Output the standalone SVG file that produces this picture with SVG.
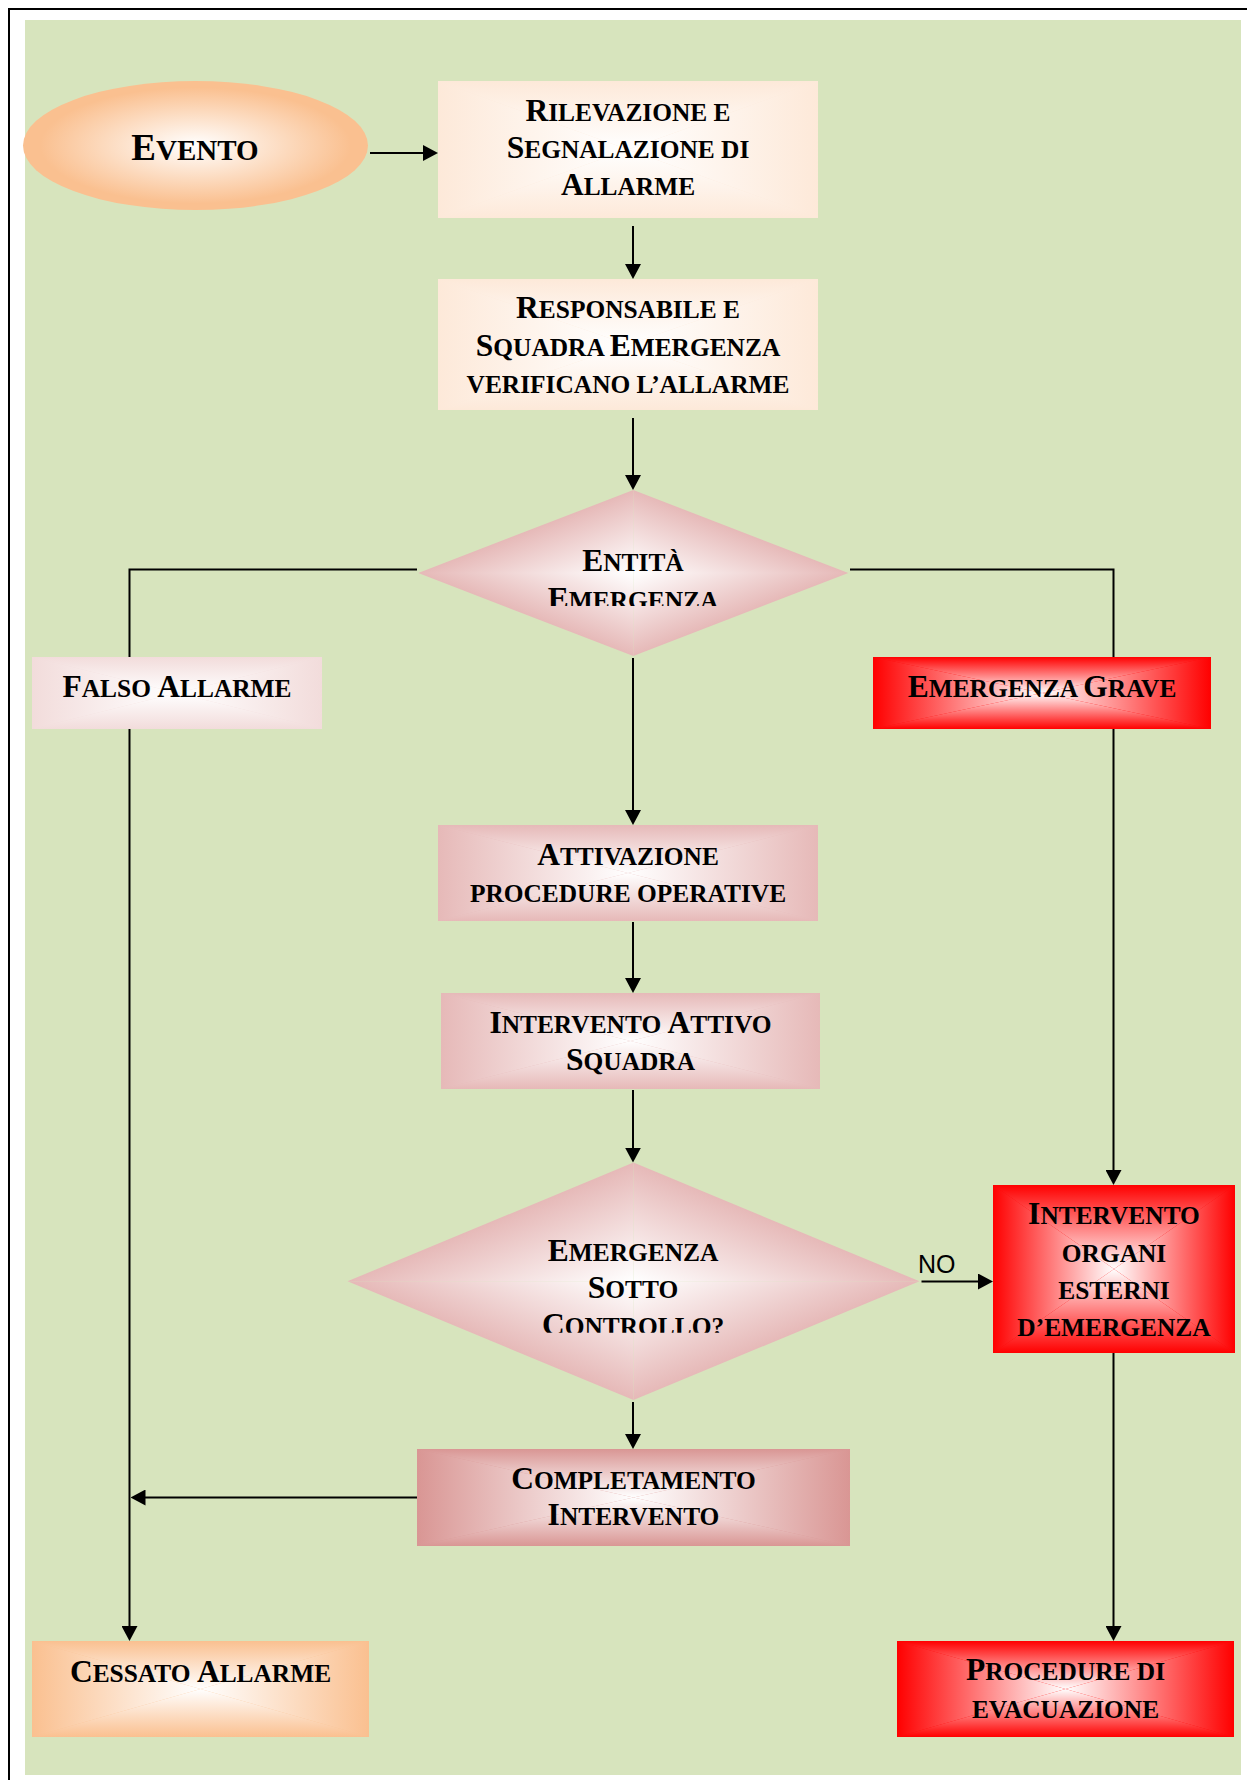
<svg xmlns="http://www.w3.org/2000/svg" xmlns:xlink="http://www.w3.org/1999/xlink" width="1247" height="1780" viewBox="0 0 1247 1780">
<style>
.t{font-family:"Liberation Serif","Times New Roman",serif;font-weight:bold;font-size:25.4px;fill:#000;text-anchor:middle}
.b{font-size:31.5px}
.ln{stroke:#000;stroke-width:2;fill:none}
.ar{marker-end:url(#ah)}
.lbl{font-family:"Liberation Sans",Arial,sans-serif;font-size:25px;fill:#000}
</style>
<defs>
<marker id="ah" viewBox="0 0 15 16" refX="5" refY="8" markerWidth="15" markerHeight="16" orient="auto" markerUnits="userSpaceOnUse"><path d="M0,0 L15,8 L0,16 z" fill="#000"/></marker>
<radialGradient id="ell" cx="0.5" cy="0.5" r="0.5"><stop offset="0" stop-color="#fff"/><stop offset="0.9" stop-color="#FAC090"/></radialGradient>

<linearGradient id="pe-t" x1="0" y1="0" x2="0" y2="1"><stop offset="0" stop-color="#FDE9D9"/><stop offset="1" stop-color="#fff"/></linearGradient>
<linearGradient id="pe-b" xlink:href="#pe-t" x1="0" y1="1" x2="0" y2="0"/>
<linearGradient id="pe-l" xlink:href="#pe-t" x1="0" y1="0" x2="1" y2="0"/>
<linearGradient id="pe-r" xlink:href="#pe-t" x1="1" y1="0" x2="0" y2="0"/>

<linearGradient id="lp-t" x1="0" y1="0" x2="0" y2="1"><stop offset="0" stop-color="#F2DCDB"/><stop offset="1" stop-color="#fff"/></linearGradient>
<linearGradient id="lp-b" xlink:href="#lp-t" x1="0" y1="1" x2="0" y2="0"/>
<linearGradient id="lp-l" xlink:href="#lp-t" x1="0" y1="0" x2="1" y2="0"/>
<linearGradient id="lp-r" xlink:href="#lp-t" x1="1" y1="0" x2="0" y2="0"/>

<linearGradient id="pk-t" x1="0" y1="0" x2="0" y2="1"><stop offset="0" stop-color="#E6B9B8"/><stop offset="1" stop-color="#fff"/></linearGradient>
<linearGradient id="pk-b" xlink:href="#pk-t" x1="0" y1="1" x2="0" y2="0"/>
<linearGradient id="pk-l" xlink:href="#pk-t" x1="0" y1="0" x2="1" y2="0"/>
<linearGradient id="pk-r" xlink:href="#pk-t" x1="1" y1="0" x2="0" y2="0"/>

<linearGradient id="ro-t" x1="0" y1="0" x2="0" y2="1"><stop offset="0" stop-color="#D99694"/><stop offset="1" stop-color="#fff"/></linearGradient>
<linearGradient id="ro-b" xlink:href="#ro-t" x1="0" y1="1" x2="0" y2="0"/>
<linearGradient id="ro-l" xlink:href="#ro-t" x1="0" y1="0" x2="1" y2="0"/>
<linearGradient id="ro-r" xlink:href="#ro-t" x1="1" y1="0" x2="0" y2="0"/>

<linearGradient id="rd-t" x1="0" y1="0" x2="0" y2="1"><stop offset="0" stop-color="#FF0000"/><stop offset="1" stop-color="#fff"/></linearGradient>
<linearGradient id="rd-b" xlink:href="#rd-t" x1="0" y1="1" x2="0" y2="0"/>
<linearGradient id="rd-l" xlink:href="#rd-t" x1="0" y1="0" x2="1" y2="0"/>
<linearGradient id="rd-r" xlink:href="#rd-t" x1="1" y1="0" x2="0" y2="0"/>

<linearGradient id="or-t" x1="0" y1="0" x2="0" y2="1"><stop offset="0" stop-color="#FAC090"/><stop offset="1" stop-color="#fff"/></linearGradient>
<linearGradient id="or-b" xlink:href="#or-t" x1="0" y1="1" x2="0" y2="0"/>
<linearGradient id="or-l" xlink:href="#or-t" x1="0" y1="0" x2="1" y2="0"/>
<linearGradient id="or-r" xlink:href="#or-t" x1="1" y1="0" x2="0" y2="0"/>

<linearGradient id="d1-tr" gradientUnits="userSpaceOnUse" x1="661.2" y1="500.8" x2="633.3" y2="573" xlink:href="#pk-t"/>
<linearGradient id="d1-tl" gradientUnits="userSpaceOnUse" x1="605.4" y1="500.8" x2="633.3" y2="573" xlink:href="#pk-t"/>
<linearGradient id="d1-br" gradientUnits="userSpaceOnUse" x1="661.2" y1="645.2" x2="633.3" y2="573" xlink:href="#pk-t"/>
<linearGradient id="d1-bl" gradientUnits="userSpaceOnUse" x1="605.4" y1="645.2" x2="633.3" y2="573" xlink:href="#pk-t"/>

<linearGradient id="d2-tr" gradientUnits="userSpaceOnUse" x1="675.5" y1="1180.1" x2="633.5" y2="1281.3" xlink:href="#pk-t"/>
<linearGradient id="d2-tl" gradientUnits="userSpaceOnUse" x1="591.5" y1="1180.1" x2="633.5" y2="1281.3" xlink:href="#pk-t"/>
<linearGradient id="d2-br" gradientUnits="userSpaceOnUse" x1="675.5" y1="1382.5" x2="633.5" y2="1281.3" xlink:href="#pk-t"/>
<linearGradient id="d2-bl" gradientUnits="userSpaceOnUse" x1="591.5" y1="1382.5" x2="633.5" y2="1281.3" xlink:href="#pk-t"/>

<clipPath id="c1"><rect x="520" y="535" width="227" height="71"/></clipPath>
<clipPath id="c2"><rect x="490" y="1225" width="287" height="107.7"/></clipPath>
</defs>

<rect x="0" y="0" width="1247" height="1780" fill="#fff"/>
<rect x="9" y="9" width="1300" height="1820" fill="none" stroke="#000" stroke-width="2"/>
<rect x="25" y="20" width="1216" height="1755" fill="#D7E4BD"/>

<g id="connectors">
<path class="ln ar" d="M370,153 H428"/>
<path class="ln ar" d="M633,226 V269"/>
<path class="ln ar" d="M633,418 V480"/>
<path class="ln" d="M417,569.5 H129.5 V657"/>
<path class="ln" d="M850,569.5 H1113.5 V657"/>
<path class="ln ar" d="M633,658 V815"/>
<path class="ln ar" d="M633,922 V983"/>
<path class="ln ar" d="M633,1090 V1152.6"/>
<path class="ln ar" d="M633,1402 V1439"/>
<path class="ln ar" d="M921.5,1281.5 H983"/>
<path class="ln ar" d="M417,1497.5 H140.5"/>
<path class="ln ar" d="M129.5,729 V1631"/>
<path class="ln ar" d="M1113.5,729 V1175"/>
<path class="ln ar" d="M1113.5,1353 V1631"/>
<text class="lbl" x="918" y="1273">NO</text>
</g>

<g id="evento">
<ellipse cx="195.5" cy="145.5" rx="172.5" ry="64.5" fill="url(#ell)"/>
<text class="t" x="195" y="160" style="font-size:29px"><tspan style="font-size:37px">E</tspan>VENTO</text>
</g>

<g id="rilevazione">
<rect x="438" y="81" width="380" height="137" fill="#FDE9D9"/>
<polygon points="438,81 818,81 628,149.5" fill="url(#pe-t)"/>
<polygon points="438,218 818,218 628,149.5" fill="url(#pe-b)"/>
<polygon points="438,81 438,218 628,149.5" fill="url(#pe-l)"/>
<polygon points="818,81 818,218 628,149.5" fill="url(#pe-r)"/>
<text class="t" x="628" y="121"><tspan class="b">R</tspan>ILEVAZIONE E</text>
<text class="t" x="628" y="158"><tspan class="b">S</tspan>EGNALAZIONE DI</text>
<text class="t" x="628" y="195"><tspan class="b">A</tspan>LLARME</text>
</g>

<g id="verifica">
<rect x="438" y="279" width="380" height="131" fill="#FDE9D9"/>
<polygon points="438,279 818,279 628,344.5" fill="url(#pe-t)"/>
<polygon points="438,410 818,410 628,344.5" fill="url(#pe-b)"/>
<polygon points="438,279 438,410 628,344.5" fill="url(#pe-l)"/>
<polygon points="818,279 818,410 628,344.5" fill="url(#pe-r)"/>
<text class="t" x="628" y="318"><tspan class="b">R</tspan>ESPONSABILE E</text>
<text class="t" x="628" y="356"><tspan class="b">S</tspan>QUADRA <tspan class="b">E</tspan>MERGENZA</text>
<text class="t" x="628" y="393">VERIFICANO L’ALLARME</text>
</g>

<g id="entita">
<polygon points="633.3,490 848.3,573 633.3,573" fill="url(#d1-tr)"/>
<polygon points="633.3,490 418.3,573 633.3,573" fill="url(#d1-tl)"/>
<polygon points="848.3,573 633.3,656 633.3,573" fill="url(#d1-br)"/>
<polygon points="418.3,573 633.3,656 633.3,573" fill="url(#d1-bl)"/>
<g clip-path="url(#c1)">
<text class="t" x="633" y="571"><tspan class="b">E</tspan>NTITÀ</text>
<text class="t" x="633" y="609"><tspan class="b">E</tspan>MERGENZA</text>
</g>
</g>

<g id="falso">
<rect x="32" y="657" width="290" height="72" fill="#F2DCDB"/>
<polygon points="32,657 322,657 177,693" fill="url(#lp-t)"/>
<polygon points="32,729 322,729 177,693" fill="url(#lp-b)"/>
<polygon points="32,657 32,729 177,693" fill="url(#lp-l)"/>
<polygon points="322,657 322,729 177,693" fill="url(#lp-r)"/>
<text class="t" x="177" y="697"><tspan class="b">F</tspan>ALSO <tspan class="b">A</tspan>LLARME</text>
</g>

<g id="grave">
<rect x="873" y="657" width="338" height="72" fill="#FF0000"/>
<polygon points="873,657 1211,657 1042,693" fill="url(#rd-t)"/>
<polygon points="873,729 1211,729 1042,693" fill="url(#rd-b)"/>
<polygon points="873,657 873,729 1042,693" fill="url(#rd-l)"/>
<polygon points="1211,657 1211,729 1042,693" fill="url(#rd-r)"/>
<text class="t" x="1042" y="697"><tspan class="b">E</tspan>MERGENZA <tspan class="b">G</tspan>RAVE</text>
</g>

<g id="attivazione">
<rect x="438" y="825" width="380" height="96" fill="#E6B9B8"/>
<polygon points="438,825 818,825 628,873" fill="url(#pk-t)"/>
<polygon points="438,921 818,921 628,873" fill="url(#pk-b)"/>
<polygon points="438,825 438,921 628,873" fill="url(#pk-l)"/>
<polygon points="818,825 818,921 628,873" fill="url(#pk-r)"/>
<text class="t" x="628" y="865"><tspan class="b">A</tspan>TTIVAZIONE</text>
<text class="t" x="628" y="902">PROCEDURE OPERATIVE</text>
</g>

<g id="intervento-attivo">
<rect x="441" y="993" width="379" height="96" fill="#E6B9B8"/>
<polygon points="441,993 820,993 630.5,1041" fill="url(#pk-t)"/>
<polygon points="441,1089 820,1089 630.5,1041" fill="url(#pk-b)"/>
<polygon points="441,993 441,1089 630.5,1041" fill="url(#pk-l)"/>
<polygon points="820,993 820,1089 630.5,1041" fill="url(#pk-r)"/>
<text class="t" x="630.5" y="1033"><tspan class="b">I</tspan>NTERVENTO <tspan class="b">A</tspan>TTIVO</text>
<text class="t" x="630.5" y="1070"><tspan class="b">S</tspan>QUADRA</text>
</g>

<g id="sotto-controllo">
<polygon points="633.5,1162.6 919.5,1281.3 633.5,1281.3" fill="url(#d2-tr)"/>
<polygon points="633.5,1162.6 347.5,1281.3 633.5,1281.3" fill="url(#d2-tl)"/>
<polygon points="919.5,1281.3 633.5,1400 633.5,1281.3" fill="url(#d2-br)"/>
<polygon points="347.5,1281.3 633.5,1400 633.5,1281.3" fill="url(#d2-bl)"/>
<g clip-path="url(#c2)">
<text class="t" x="633" y="1261"><tspan class="b">E</tspan>MERGENZA</text>
<text class="t" x="633" y="1298"><tspan class="b">S</tspan>OTTO</text>
<text class="t" x="633" y="1334.5"><tspan class="b">C</tspan>ONTROLLO?</text>
</g>
</g>

<g id="organi-esterni">
<rect x="993" y="1185" width="242" height="168" fill="#FF0000"/>
<polygon points="993,1185 1235,1185 1114,1269" fill="url(#rd-t)"/>
<polygon points="993,1353 1235,1353 1114,1269" fill="url(#rd-b)"/>
<polygon points="993,1185 993,1353 1114,1269" fill="url(#rd-l)"/>
<polygon points="1235,1185 1235,1353 1114,1269" fill="url(#rd-r)"/>
<text class="t" x="1114" y="1224"><tspan class="b">I</tspan>NTERVENTO</text>
<text class="t" x="1114" y="1262">ORGANI</text>
<text class="t" x="1114" y="1298.5">ESTERNI</text>
<text class="t" x="1114" y="1336">D’EMERGENZA</text>
</g>

<g id="completamento">
<rect x="417" y="1449" width="433" height="97" fill="#D99694"/>
<polygon points="417,1449 850,1449 633.5,1497.5" fill="url(#ro-t)"/>
<polygon points="417,1546 850,1546 633.5,1497.5" fill="url(#ro-b)"/>
<polygon points="417,1449 417,1546 633.5,1497.5" fill="url(#ro-l)"/>
<polygon points="850,1449 850,1546 633.5,1497.5" fill="url(#ro-r)"/>
<text class="t" x="633.5" y="1488.5"><tspan class="b">C</tspan>OMPLETAMENTO</text>
<text class="t" x="633.5" y="1525"><tspan class="b">I</tspan>NTERVENTO</text>
</g>

<g id="cessato">
<rect x="32" y="1641" width="337" height="96" fill="#FAC090"/>
<polygon points="32,1641 369,1641 200.5,1689" fill="url(#or-t)"/>
<polygon points="32,1737 369,1737 200.5,1689" fill="url(#or-b)"/>
<polygon points="32,1641 32,1737 200.5,1689" fill="url(#or-l)"/>
<polygon points="369,1641 369,1737 200.5,1689" fill="url(#or-r)"/>
<text class="t" x="200.5" y="1682"><tspan class="b">C</tspan>ESSATO <tspan class="b">A</tspan>LLARME</text>
</g>

<g id="evacuazione">
<rect x="897" y="1641" width="337" height="96" fill="#FF0000"/>
<polygon points="897,1641 1234,1641 1065.5,1689" fill="url(#rd-t)"/>
<polygon points="897,1737 1234,1737 1065.5,1689" fill="url(#rd-b)"/>
<polygon points="897,1641 897,1737 1065.5,1689" fill="url(#rd-l)"/>
<polygon points="1234,1641 1234,1737 1065.5,1689" fill="url(#rd-r)"/>
<text class="t" x="1065.5" y="1680"><tspan class="b">P</tspan>ROCEDURE DI</text>
<text class="t" x="1065.5" y="1717.5">EVACUAZIONE</text>
</g>
</svg>
